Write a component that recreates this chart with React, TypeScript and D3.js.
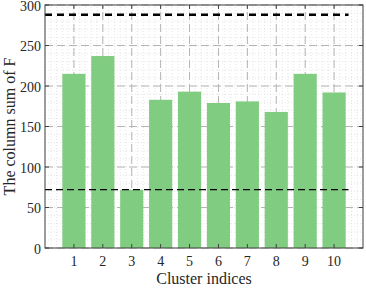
import React, { useEffect, useRef } from "react";
import * as d3 from "d3";

const clusters = [1, 2, 3, 4, 5, 6, 7, 8, 9, 10];
const columnSums = [215, 237, 72, 183, 193, 179, 181, 168, 215, 192];
const yTicks = [0, 50, 100, 150, 200, 250, 300];
const upperLimit = 288;
const lowerLimit = 72;

export default function App() {
  const ref = useRef<SVGSVGElement>(null);

  useEffect(() => {
    const width = 366;
    const height = 288;
    const margin = { top: 5, right: 3, bottom: 40, left: 45 };

    const svg = d3.select(ref.current);
    svg.selectAll("*").remove();

    const x = d3.scaleLinear().domain([0, 11]).range([margin.left, width - margin.right]);
    const y = d3.scaleLinear().domain([0, 300]).range([height - margin.bottom, margin.top]);

    const g = svg.append("g").style("font-family", "Liberation Serif, serif");

    // minor grid
    const minorX = d3.range(0, 11.001, 0.2);
    const minorY = d3.range(0, 300.001, 10);
    g.selectAll("line.minx").data(minorX).enter().append("line")
      .attr("x1", d => x(d)).attr("x2", d => x(d))
      .attr("y1", y(0)).attr("y2", y(300))
      .attr("stroke", "#dedede").attr("stroke-width", 0.8).attr("stroke-dasharray", "1,2");
    g.selectAll("line.miny").data(minorY).enter().append("line")
      .attr("y1", d => y(d)).attr("y2", d => y(d))
      .attr("x1", x(0)).attr("x2", x(11))
      .attr("stroke", "#dedede").attr("stroke-width", 0.8).attr("stroke-dasharray", "1,2");

    // major grid
    g.selectAll("line.majx").data(clusters).enter().append("line")
      .attr("x1", d => x(d)).attr("x2", d => x(d))
      .attr("y1", y(0)).attr("y2", y(300))
      .attr("stroke", "#b4b4b4").attr("stroke-width", 1).attr("stroke-dasharray", "8,4");
    g.selectAll("line.majy").data(yTicks).enter().append("line")
      .attr("y1", d => y(d)).attr("y2", d => y(d))
      .attr("x1", x(0)).attr("x2", x(11))
      .attr("stroke", "#b4b4b4").attr("stroke-width", 1).attr("stroke-dasharray", "8,4");

    // bars
    const bw = 0.8;
    g.selectAll("rect.bar").data(columnSums).enter().append("rect")
      .attr("x", (d, i) => x(clusters[i] - bw / 2))
      .attr("width", x(bw) - x(0))
      .attr("y", d => y(d))
      .attr("height", d => y(0) - y(d))
      .attr("fill", "#80cc80");

    // limit lines
    g.append("line")
      .attr("x1", x(0)).attr("x2", x(10.5))
      .attr("y1", y(upperLimit)).attr("y2", y(upperLimit))
      .attr("stroke", "#000").attr("stroke-width", 2.5).attr("stroke-dasharray", "7,5");
    g.append("line")
      .attr("x1", x(0)).attr("x2", x(10.5))
      .attr("y1", y(lowerLimit)).attr("y2", y(lowerLimit))
      .attr("stroke", "#000").attr("stroke-width", 1.3).attr("stroke-dasharray", "7,4");

    // box
    g.append("rect")
      .attr("x", x(0)).attr("y", y(300))
      .attr("width", x(11) - x(0)).attr("height", y(0) - y(300))
      .attr("fill", "none").attr("stroke", "#404040").attr("stroke-width", 1);

    // ticks
    const tl = 4;
    clusters.forEach(c => {
      g.append("line").attr("x1", x(c)).attr("x2", x(c)).attr("y1", y(0)).attr("y2", y(0) - tl).attr("stroke", "#404040");
      g.append("line").attr("x1", x(c)).attr("x2", x(c)).attr("y1", y(300)).attr("y2", y(300) + tl).attr("stroke", "#404040");
      g.append("text").attr("x", x(c)).attr("y", y(0) + 18)
        .attr("text-anchor", "middle").attr("font-size", 14)
        .attr("fill", "#262626").text(c);
    });
    yTicks.forEach(t => {
      g.append("line").attr("x1", x(0)).attr("x2", x(0) + tl).attr("y1", y(t)).attr("y2", y(t)).attr("stroke", "#404040");
      g.append("line").attr("x1", x(11)).attr("x2", x(11) - tl).attr("y1", y(t)).attr("y2", y(t)).attr("stroke", "#404040");
      g.append("text").attr("x", x(0) - 4).attr("y", y(t) + 1).attr("dy", "0.35em")
        .attr("text-anchor", "end").attr("font-size", 14)
        .attr("fill", "#262626").text(t);
    });

    g.append("text").attr("x", (x(0) + x(11)) / 2).attr("y", 284)
      .attr("text-anchor", "middle").attr("font-size", 16)
      .attr("fill", "#262626").text("Cluster indices");
    g.append("text")
      .attr("transform", `translate(15,${(y(0) + y(300)) / 2}) rotate(-90)`)
      .attr("text-anchor", "middle").attr("font-size", 16)
      .attr("fill", "#262626").text("The column sum of F");
  }, []);

  return (
    <svg ref={ref} width={366} height={288}
      style={{ position: "absolute", left: 0, top: 0, background: "#fff" }} />
  );
}
